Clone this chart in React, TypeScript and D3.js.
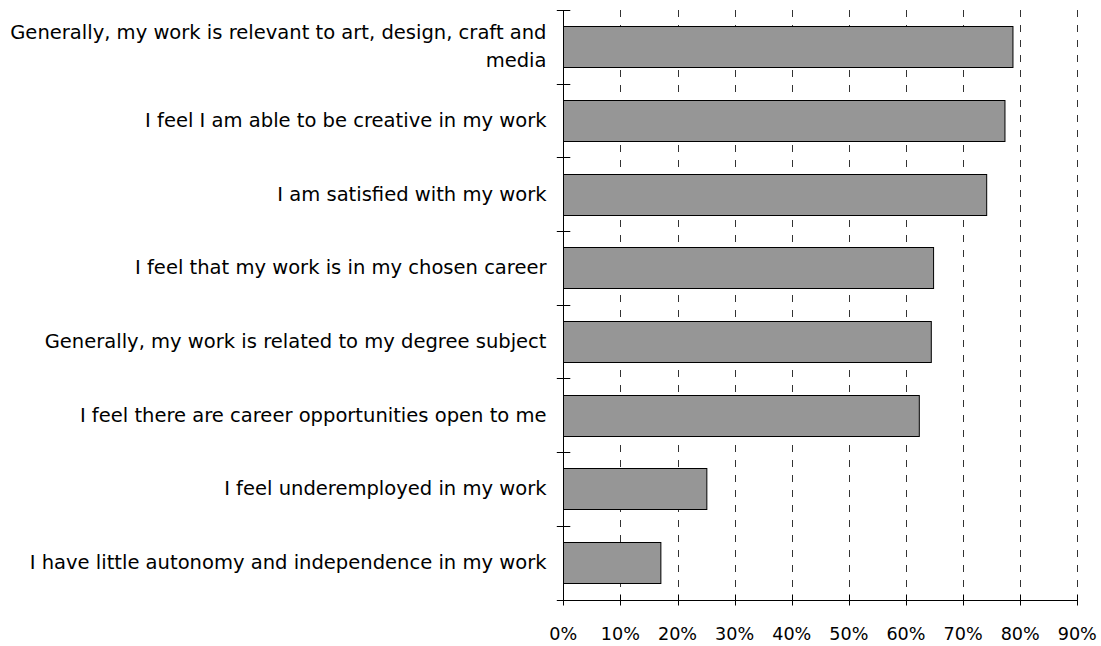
import React from "react";
import * as d3 from "d3";

const categories: string[][] = [
  ["Generally, my work is relevant to art, design, craft and", "media"],
  ["I feel I am able to be creative in my work"],
  ["I am satisfied with my work"],
  ["I feel that my work is in my chosen career"],
  ["Generally, my work is related to my degree subject"],
  ["I feel there are career opportunities open to me"],
  ["I feel underemployed in my work"],
  ["I have little autonomy and independence in my work"],
];
const values: number[] = [78.7, 77.3, 74.1, 64.8, 64.4, 62.3, 25.1, 17.05];
const xTicks: number[] = [0, 10, 20, 30, 40, 50, 60, 70, 80, 90];

const W = 1101;
const H = 646;
const left = 563.3;
const right = 1077.3;
const top = 10;
const bottom = 599.5;
const FONT = "'DejaVu Sans', sans-serif";

export default function App() {
  const x = d3.scaleLinear().domain([0, 90]).range([left, right]);
  const idx = d3.range(categories.length);
  const y = d3
    .scaleBand<number>()
    .domain(idx)
    .range([top, bottom])
    .paddingInner(0.44)
    .paddingOuter(0.22);
  const band = (bottom - top) / categories.length;

  return (
    <svg
      width={W}
      height={H}
      style={{ position: "absolute", left: 0, top: 0, background: "#fff" }}
    >
      {/* gridlines */}
      {xTicks
        .filter((t) => t > 0)
        .map((t) => (
          <line
            key={"g" + t}
            x1={Math.round(x(t)) + 0.5}
            x2={Math.round(x(t)) + 0.5}
            y1={top}
            y2={bottom}
            stroke="#333"
            strokeWidth={1}
            strokeDasharray="7,8"
          />
        ))}
      {/* bars */}
      {values.map((v, i) => (
        <rect
          key={"b" + i}
          x={Math.round(x(0)) + 0.5}
          y={Math.round(y(i)!) + 0.5}
          width={x(v) - x(0)}
          height={Math.round(y.bandwidth())}
          fill="#969696"
          stroke="#000"
          strokeWidth={1}
        />
      ))}
      {/* y axis */}
      <line
        x1={Math.round(left) + 0.5}
        x2={Math.round(left) + 0.5}
        y1={top}
        y2={bottom}
        stroke="#000"
      />
      {d3.range(categories.length + 1).map((k) => {
        const yy = Math.round(top + k * band) + 0.5;
        return (
          <line
            key={"yt" + k}
            x1={left - 6.5}
            x2={left + 7}
            y1={yy}
            y2={yy}
            stroke="#000"
          />
        );
      })}
      {/* x axis */}
      <line
        x1={left}
        x2={right}
        y1={Math.round(bottom) + 0.5}
        y2={Math.round(bottom) + 0.5}
        stroke="#000"
      />
      {xTicks.map((t) => (
        <g key={"xt" + t}>
          <line
            x1={Math.round(x(t)) + 0.5}
            x2={Math.round(x(t)) + 0.5}
            y1={bottom - 5}
            y2={bottom + 6}
            stroke="#000"
          />
          <text
            x={x(t)}
            y={640}
            textAnchor="middle"
            fontFamily={FONT}
            fontSize={17.6}
            fill="#000"
          >
            {t + "%"}
          </text>
        </g>
      ))}
      {/* category labels */}
      {categories.map((lines, i) => {
        const c = top + (i + 0.5) * band;
        const lh = 28;
        const start = c + 6.5 - ((lines.length - 1) * lh) / 2;
        return (
          <text
            key={"l" + i}
            textAnchor="end"
            fontFamily={FONT}
            fontSize={19.55}
            fill="#000"
          >
            {lines.map((ln, j) => (
              <tspan key={j} x={546.5} y={start + j * lh}>
                {ln}
              </tspan>
            ))}
          </text>
        );
      })}
    </svg>
  );
}
